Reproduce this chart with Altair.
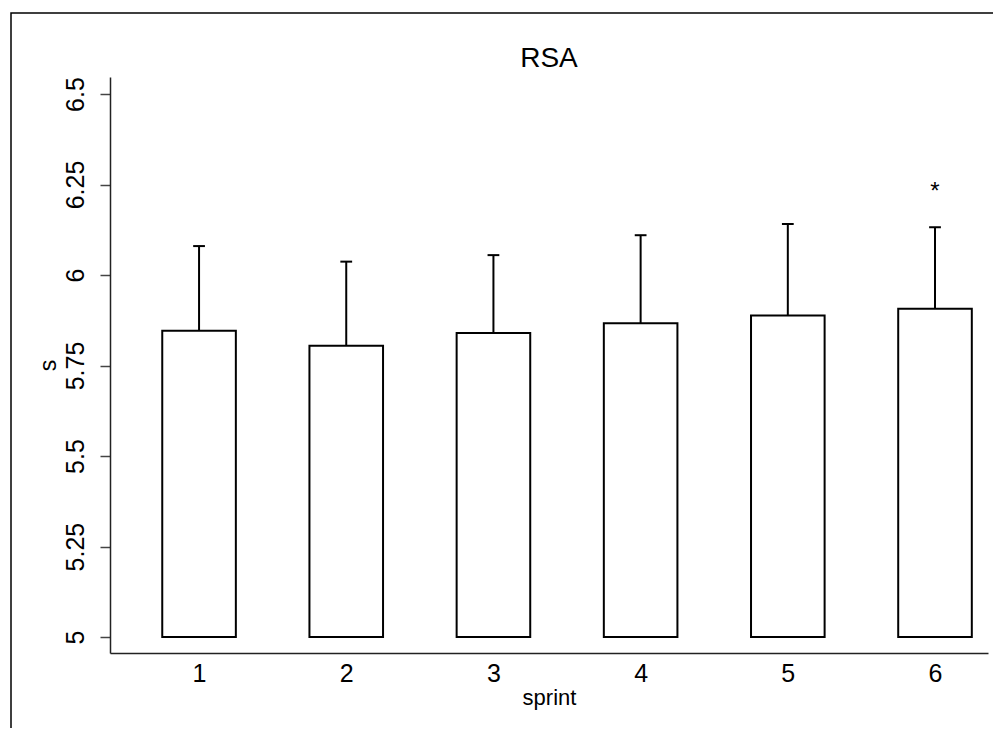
import altair as alt
import pandas as pd

sprints = [1, 2, 3, 4, 5, 6]
means = [5.846, 5.805, 5.840, 5.867, 5.888, 5.907]
sds = [0.234, 0.232, 0.215, 0.243, 0.253, 0.225]
star_sprint = [6]
star_y = [6.21]
star_text = ["*"]
x_ticks = [1, 2, 3, 4, 5, 6]
y_ticks = [5, 5.25, 5.5, 5.75, 6, 6.25, 6.5]

FONT = "Liberation Sans"
W, H = 878, 576

df = pd.DataFrame({"sprint": sprints, "mean": means, "sd": sds})
df["upper"] = df["mean"] + df["sd"]
stars = pd.DataFrame({"sprint": star_sprint, "y": star_y, "t": star_text})

xscale = alt.Scale(domain=[0.395, 6.36], nice=False, zero=False)
yscale = alt.Scale(domain=[4.956, 6.547], nice=False, zero=False)

xaxis = alt.Axis(values=x_ticks, format="d", ticks=False, grid=False,
                 labelFont=FONT, labelFontSize=25, labelColor="black",
                 labelPadding=8, domainColor="#222", domainWidth=1.5,
                 title="sprint", titleFont=FONT, titleFontSize=22,
                 titleFontWeight="normal", titleColor="black", titlePadding=1)
yaxis = alt.Axis(values=y_ticks, grid=False, labelAngle=-90, labelAlign="center",
                 labelBaseline="bottom", labelFont=FONT, labelFontSize=25,
                 labelColor="black", labelPadding=12, tickSize=10,
                 tickColor="#444", tickWidth=1.5, domainColor="#222", domainWidth=1.5,
                 labelExpr="datum.value == 5 || datum.value == 6 ? format(datum.value, 'd') : format(datum.value, '')",
                 title="s", titleFont=FONT, titleFontSize=23, titleFontWeight="normal",
                 titleColor="black", titlePadding=3)

base = alt.Chart(df)

frame = base.transform_filter("datum.sprint == 1").mark_rect(
    fill="white", fillOpacity=0, stroke="black", strokeWidth=1.5
).encode(x=alt.value(-99), x2=alt.value(W + 40), y=alt.value(-64), y2=alt.value(H + 120))

bars = base.transform_calculate(
    xl="datum.sprint - 0.25", xr="datum.sprint + 0.25"
).mark_rect(fill="white", stroke="black", strokeWidth=2).encode(
    x=alt.X("xl:Q", scale=xscale, axis=xaxis),
    x2="xr:Q",
    y=alt.Y("mean:Q", scale=yscale, axis=yaxis),
    y2=alt.datum(5),
)

stems = base.mark_rule(color="black", strokeWidth=2).encode(
    x=alt.X("sprint:Q", scale=xscale),
    y=alt.Y("mean:Q", scale=yscale),
    y2="upper:Q",
)

caps = base.transform_calculate(
    cl="datum.sprint - 0.04", cr="datum.sprint + 0.04"
).mark_rule(color="black", strokeWidth=2).encode(
    x=alt.X("cl:Q", scale=xscale),
    x2="cr:Q",
    y=alt.Y("upper:Q", scale=yscale),
)

star = alt.Chart(stars).mark_text(font=FONT, fontSize=24, color="black",
                                  baseline="alphabetic").encode(
    x=alt.X("sprint:Q", scale=xscale),
    y=alt.Y("y:Q", scale=yscale),
    text="t:N",
)

title = base.transform_filter("datum.sprint == 1").mark_text(
    font=FONT, fontSize=28, color="black", baseline="alphabetic", align="center"
).encode(x=alt.value(W / 2), y=alt.value(-10), text=alt.value("RSA"))

chart = alt.layer(frame, bars, stems, caps, star, title).properties(
    width=W, height=H,
    autosize=alt.AutoSizeParams(type="none"),
    padding={"left": 102, "top": 69, "right": 5, "bottom": 75},
).configure_view(stroke=None)

chart.save("out.html", embed_options={"renderer": "svg", "actions": False})
